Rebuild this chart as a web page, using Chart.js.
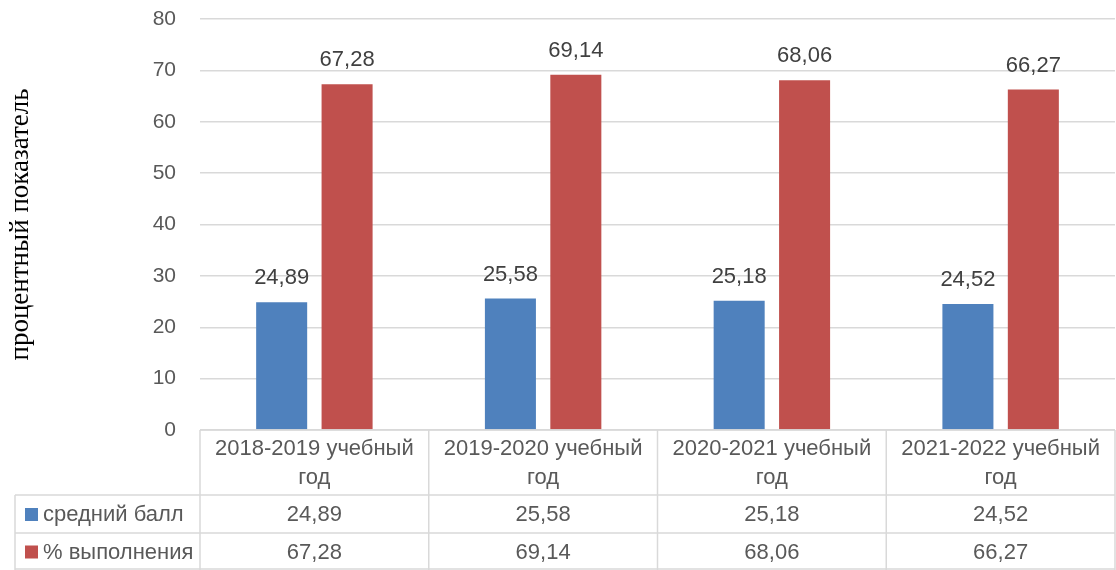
<!DOCTYPE html>
<html>
<head>
<meta charset="utf-8">
<script src="https://cdn.jsdelivr.net/npm/chart.js@4/dist/chart.umd.min.js"></script>
<style>
    html, body { margin: 0; padding: 0; background: #fff; }
    #wrap { width: 1116px; height: 570px; }
</style>
</head>
<body>
<div id="wrap"><canvas id="chart" width="1116" height="570"></canvas></div>
<script>
(function() {
    'use strict';

    // данные
    const categories = [
        ['2018-2019 учебный', 'год'],
        ['2019-2020 учебный', 'год'],
        ['2020-2021 учебный', 'год'],
        ['2021-2022 учебный', 'год']
    ];
    const seriesNames = ['средний балл', '% выполнения'];
    const avgScore = [24.89, 25.58, 25.18, 24.52];
    const completion = [67.28, 69.14, 68.06, 66.27];
    const yMin = 0, yMax = 80, yStep = 10;
    const yTitle = 'процентный показатель';

    const BLUE = '#4F81BD';
    const RED = '#C0504D';
    const GRID = '#D9D9D9';
    const TEXT = '#595959';
    const FONT = '"Liberation Sans", Arial, sans-serif';

    function fmt(v) { return v.toFixed(2).replace('.', ','); }

    // подписи над столбиками
    const valueLabels = {
        id: 'valueLabels',
        afterDatasetsDraw(chart) {
            const ctx = chart.ctx;
            ctx.save();
            ctx.font = '22px ' + FONT;
            ctx.fillStyle = '#404040';
            ctx.textAlign = 'center';
            ctx.textBaseline = 'alphabetic';
            chart.data.datasets.forEach((ds, i) => {
                chart.getDatasetMeta(i).data.forEach((bar, j) => {
                    ctx.fillText(fmt(ds.data[j]), bar.x, bar.y - 18);
                });
            });
            ctx.restore();
        }
    };

    // таблица данных под графиком
    const dataTable = {
        id: 'dataTable',
        afterDraw(chart) {
            const ctx = chart.ctx;
            const area = chart.chartArea;
            const xs = chart.scales.x;
            const n = categories.length;
            const w = (area.right - area.left) / n;
            const top = area.bottom;
            const r1 = 495, r2 = 533, r3 = 570;
            const left = 15;

            ctx.save();
            ctx.strokeStyle = GRID;
            ctx.lineWidth = 1.5;
            ctx.beginPath();
            // горизонтальные
            ctx.moveTo(area.left, top); ctx.lineTo(area.right, top);
            [r1, r2, r3 - 1].forEach(y => { ctx.moveTo(left, y); ctx.lineTo(area.right, y); });
            // вертикальные
            ctx.moveTo(left, r1); ctx.lineTo(left, r3);
            for (let i = 0; i <= n; i++) {
                const x = area.left + i * w;
                ctx.moveTo(x, top); ctx.lineTo(x, r3);
            }
            ctx.stroke();

            ctx.font = '22px ' + FONT;
            ctx.fillStyle = TEXT;
            ctx.textAlign = 'center';
            ctx.textBaseline = 'middle';
            categories.forEach((lines, i) => {
                const cx = xs.getPixelForValue(i);
                lines.forEach((t, k) => ctx.fillText(t, cx, 449 + k * 29));
                ctx.fillText(fmt(avgScore[i]), cx, (r1 + r2) / 2 + 1);
                ctx.fillText(fmt(completion[i]), cx, (r2 + r3) / 2 + 1);
            });

            // легенда в строках
            const rows = [[(r1 + r2) / 2, BLUE], [(r2 + r3) / 2, RED]];
            ctx.textAlign = 'left';
            rows.forEach((row, k) => {
                ctx.fillStyle = row[1];
                ctx.fillRect(25, row[0] - 6, 13, 13);
                ctx.fillStyle = TEXT;
                ctx.fillText(seriesNames[k], 43, row[0] + 1);
            });
            ctx.restore();
        }
    };

    new Chart(document.getElementById('chart'), {
        type: 'bar',
        data: {
            labels: categories,
            datasets: [
                { label: seriesNames[0], data: avgScore, backgroundColor: BLUE },
                { label: seriesNames[1], data: completion, backgroundColor: RED }
            ]
        },
        options: {
            responsive: false,
            animation: false,
            events: [],
            categoryPercentage: 0.572,
            barPercentage: 0.78,
            layout: { padding: { top: 19, right: 1, bottom: 140, left: 0 } },
            plugins: { legend: { display: false }, tooltip: { enabled: false } },
            scales: {
                x: { display: false },
                y: {
                    min: yMin, max: yMax,
                    afterFit(s) { s.width = 200; },
                    ticks: { stepSize: yStep, padding: 0, color: TEXT, font: { family: FONT, size: 21 } },
                    grid: { color: GRID, lineWidth: 1.5, drawTicks: true, tickLength: 24, tickColor: 'rgba(0,0,0,0)' },
                    border: { display: false },
                    title: {
                        display: true, text: yTitle, color: '#000',
                        font: { family: '"Liberation Serif", "Times New Roman", serif', size: 27 },
                        padding: { top: 5, bottom: 0 }
                    }
                }
            }
        },
        plugins: [valueLabels, dataTable]
    });
})();
</script>
</body>
</html>
